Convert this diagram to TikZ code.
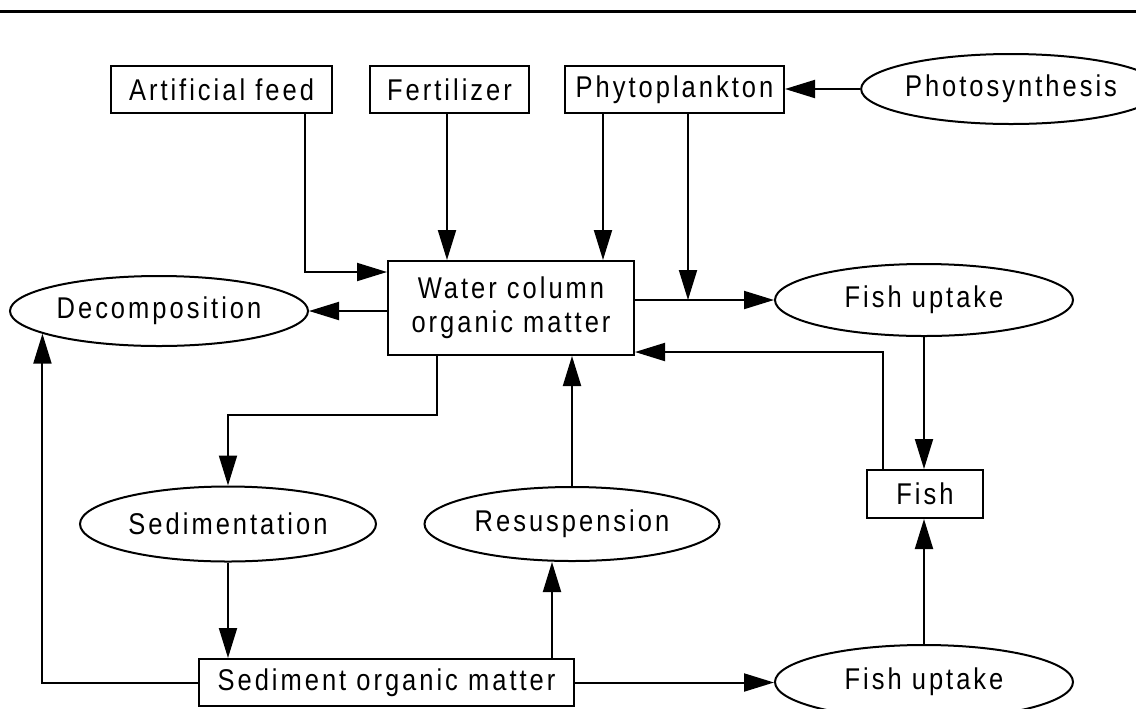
\documentclass[tikz,border=0pt]{standalone}
\usepackage{fontspec}
\setmainfont{Liberation Sans}[LetterSpace=10,FakeStretch=0.85]
\usetikzlibrary{arrows.meta,shapes.geometric}
\begin{document}
\begin{tikzpicture}[x=0.5pt,y=-0.5pt,
  lbl/.style={font=\fontsize{15}{17}\selectfont,align=center,inner sep=0pt},
  box/.style={lbl,draw,line width=1pt,rectangle},
  oval/.style={lbl,draw,line width=1pt,ellipse,minimum width=149pt,minimum height=36pt},
  conn/.style={line width=1pt,-{Triangle[length=15pt,width=9pt]}}]
\useasboundingbox (0,0) rectangle (1136,708);
\draw[line width=1.5pt] (0,11) -- (1136,11);
% nodes
\node[box,minimum width=110.5pt,minimum height=23.5pt] (af) at (221.5,89.5) {Artificial feed};
\node[box,minimum width=79.5pt,minimum height=23.5pt] (fert) at (449.5,89.5) {Fertilizer};
\node[box,minimum width=109.5pt,minimum height=23.5pt] (phyto) at (674.5,89.5) {Phytoplankton};
\node[oval,minimum height=35pt] (photo) at (1011,89) {Photosynthesis};
\node[box,minimum width=123pt,minimum height=47pt] (wc) at (511,308) {Water column\\organic matter};
\node[oval,minimum height=35pt] (dec) at (159,311) {Decomposition};
\node[oval] (fu1) at (924,300) {Fish uptake};
\node[oval,minimum width=148pt,minimum height=37.5pt] (sed) at (228,524) {Sedimentation};
\node[oval,minimum width=147.5pt,minimum height=37pt] (res) at (572,524) {Resuspension};
\node[box,minimum width=187.5pt,minimum height=23.5pt] (som) at (386.5,682.5) {Sediment organic matter};
\node[oval,minimum height=37pt] (fu2) at (924,682) {Fish uptake};
\node[box,minimum width=58pt,minimum height=24pt] (fish) at (925,494) {Fish};
% helper coordinates
\coordinate (h1) at (305,272);
\coordinate (v447) at (447,0);
\coordinate (v603) at (603,0);
\coordinate (v688) at (688,0);
\coordinate (v437) at (437,0);
\coordinate (h415) at (0,415);
\coordinate (v552) at (552,0);
\coordinate (v883) at (883,0);
\coordinate (h352) at (0,352);
% connectors
\draw[conn] (photo.west) -- (phyto.east |- photo.west);
\draw[conn] (af.south -| h1) |- (wc.west |- h1);
\draw[conn] (fert.south -| v447) -- (wc.north -| v447);
\draw[conn] (phyto.south -| v603) -- (wc.north -| v603);
\draw[conn] (phyto.south -| v688) -- (v688 |- fu1.west);
\draw[conn] (wc.east |- fu1.west) -- (fu1.west);
\draw[conn] (wc.west |- dec.east) -- (dec.east);
\draw[conn] (som.west) -| (dec.191.5);
\draw[conn] (wc.south -| v437) -- (v437 |- h415) -| (sed.north);
\draw[conn] (sed.south) -- (sed.south |- som.north);
\draw[conn] (som.north -| v552) -- (res.south -| v552);
\draw[conn] (res.north) -- (res.north |- wc.south);
\draw[conn] (som.east) -- (fu2.west |- som.east);
\draw[conn] (fu2.north) -- (fu2.north |- fish.south);
\draw[conn] (fu1.south) -- (fu1.south |- fish.north);
\draw[conn] (fish.north -| v883) |- (wc.east |- h352);
\end{tikzpicture}
\end{document}
